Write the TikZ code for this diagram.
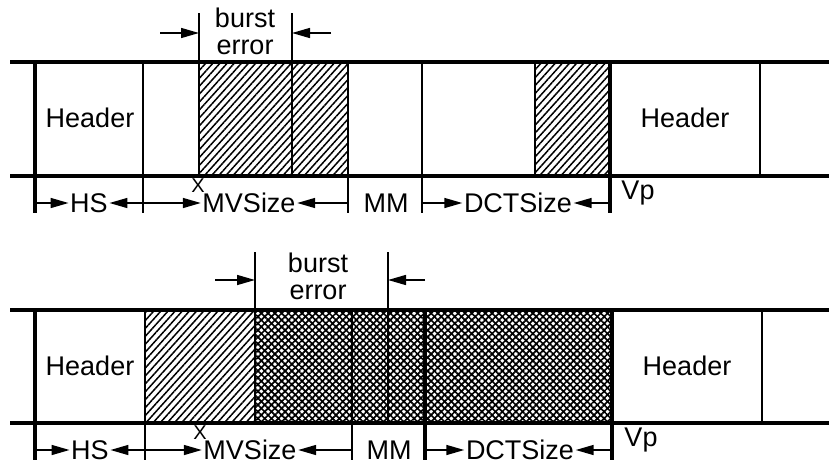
\documentclass[tikz,border=0pt]{standalone}
\usepackage{fontspec}
\setmainfont{Liberation Sans}
\usetikzlibrary{arrows.meta,patterns.meta}
\tikzset{
  band/.style={line width=3.8pt},
  thin/.style={line width=1.6pt},
  med/.style={line width=2.4pt},
  thick/.style={line width=3.6pt},
  lbl/.style={font=\fontsize{27}{29}\selectfont, inner sep=1.5pt},
  small/.style={font=\fontsize{20}{20}\selectfont, inner sep=0pt},
  dim/.style={line width=1.5pt, -{Triangle[length=18pt,width=10pt]}},
  hatch/.style={pattern={Lines[angle=48,distance=5.3pt,line width=1.5pt]}},
  xa/.style={pattern={Lines[angle=45,distance=4.8pt,line width=1.7pt]}},
  xb/.style={pattern={Lines[angle=-45,distance=4.8pt,line width=1.7pt]}},
}
\begin{document}
\begin{tikzpicture}[x=1pt,y=-1pt]
\useasboundingbox (0,0) rectangle (829,466);
% ================= TOP PANEL =================
\fill[hatch] (199,62) rectangle (348,176);
\fill[hatch] (535,62) rectangle (610,176);
% verticals
\draw[thick] (35,62) -- (35,213);
\draw[thin] (143,62) -- (143,213);
\draw[thin] (199,13) -- (199,176);
\draw[med] (292,13) -- (292,176);
\draw[thin] (348,62) -- (348,213);
\draw[thin] (422,62) -- (422,213);
\draw[med] (535,62) -- (535,176);
\draw[thick] (610,62) -- (610,213);
\draw[thin] (760,62) -- (760,176);
% band lines
\draw[band] (10,62) -- (829,62);
\draw[band] (10,176) -- (829,176);
% texts
\node[lbl] (th1) at (90,118) {Header};
\node[lbl] (th2) at (685,118) {Header};
\node[lbl] (tb1) at (245,18) {burst};
\node[lbl] (tb2) at (245,47) {error};
\coordinate (tbl) at (199,33);
\coordinate (tbr) at (292,33);
\coordinate (tbls) at (160,33);
\coordinate (tbrs) at (331,33);
\draw[dim] (tbls) -- (tbl);
\draw[dim] (tbrs) -- (tbr);
% dimension labels
\node[lbl] (ths) at (89,203) {HS};
\node[lbl] (tmv) at (249,203) {MVSize};
\node[lbl] (tmm) at (386,203) {MM};
\node[lbl] (tdct) at (518,203) {DCTSize};
\node[lbl] (tvp) at (638,193) {Vp};
\node[small] (tx) at (198,186) {X};
\coordinate (t35) at (35,203);
\coordinate (t143) at (143,203);
\coordinate (t348) at (348,203);
\coordinate (t422) at (422,203);
\coordinate (t610) at (610,203);
\draw[dim] (t35) -- (ths.west);
\draw[dim] (t143) -- (ths.east);
\draw[dim] (t143) -- (tmv.west);
\draw[dim] (t348) -- (tmv.east);
\draw[dim] (t422) -- (tdct.west);
\draw[dim] (t610) -- (tdct.east);
% ================= BOTTOM PANEL =================
\fill[hatch] (145,310) rectangle (255,423);
\fill[xa] (255,310) rectangle (612,423);
\fill[xb] (255,310) rectangle (612,423);
\draw[thick] (35,310) -- (35,460);
\draw[med] (145,310) -- (145,460);
\draw[thin] (255,252) -- (255,423);
\draw[thin] (352,310) -- (352,460);
\draw[thin] (388,252) -- (388,423);
\draw[thick] (425,310) -- (425,460);
\draw[thick] (612,310) -- (612,460);
\draw[thin] (762,310) -- (762,423);
\draw[band] (10,310) -- (829,310);
\draw[band] (10,423) -- (829,423);
\node[lbl] (bh1) at (90,366) {Header};
\node[lbl] (bh2) at (687,366) {Header};
\node[lbl] (bb1) at (318,263) {burst};
\node[lbl] (bb2) at (318,292) {error};
\coordinate (bbl) at (255,280);
\coordinate (bbr) at (388,280);
\coordinate (bbls) at (215,280);
\coordinate (bbrs) at (425,280);
\draw[dim] (bbls) -- (bbl);
\draw[dim] (bbrs) -- (bbr);
\node[lbl] (bhs) at (90,450) {HS};
\node[lbl] (bmv) at (250,450) {MVSize};
\node[lbl] (bmm) at (389,450) {MM};
\node[lbl] (bdct) at (520,450) {DCTSize};
\node[lbl] (bvp) at (641,440) {Vp};
\node[small] (bx) at (200,433) {X};
\coordinate (b35) at (35,450);
\coordinate (b145) at (145,450);
\coordinate (b352) at (352,450);
\coordinate (b425) at (425,450);
\coordinate (b612) at (612,450);
\draw[dim] (b35) -- (bhs.west);
\draw[dim] (b145) -- (bhs.east);
\draw[dim] (b145) -- (bmv.west);
\draw[dim] (b352) -- (bmv.east);
\draw[dim] (b425) -- (bdct.west);
\draw[dim] (b612) -- (bdct.east);
\end{tikzpicture}
\end{document}
